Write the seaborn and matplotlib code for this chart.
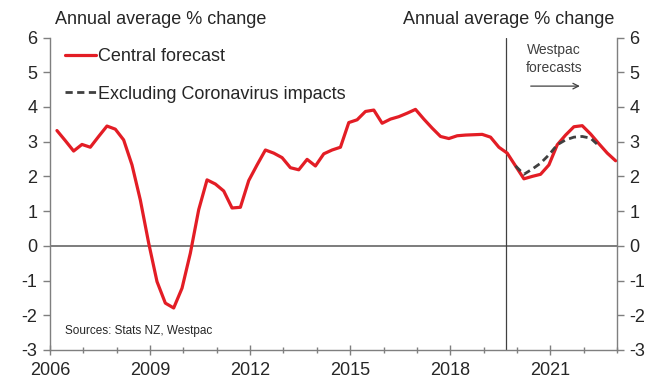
import matplotlib
matplotlib.use("Agg")
import matplotlib.pyplot as plt
from matplotlib.lines import Line2D
from matplotlib.ticker import MultipleLocator
import numpy as np
import pandas as pd
import seaborn as sns

# Quarterly GDP growth, annual average % change
first_year = 2006
central_forecast = [
    3.32, 3.03, 2.73, 2.92,   # 2006
    2.84, 3.15, 3.45, 3.36,   # 2007
    3.05, 2.33, 1.32, 0.08,   # 2008
    -1.03, -1.65, -1.79, -1.22,  # 2009
    -0.21, 1.04, 1.90, 1.78,  # 2010
    1.58, 1.09, 1.11, 1.88,   # 2011
    2.33, 2.76, 2.67, 2.54,   # 2012
    2.25, 2.19, 2.49, 2.30,   # 2013
    2.65, 2.76, 2.84, 3.55,   # 2014
    3.63, 3.87, 3.91, 3.53,   # 2015
    3.65, 3.72, 3.82, 3.93,   # 2016
    3.65, 3.39, 3.15, 3.09,   # 2017
    3.17, 3.19, 3.20, 3.21,   # 2018
    3.13, 2.84, 2.67, 2.30,   # 2019
    1.93, 2.00, 2.06, 2.33,   # 2020
    2.91, 3.19, 3.43, 3.46,   # 2021
    3.22, 2.94, 2.67, 2.45,   # 2022
]
# Scenario without the Coronavirus shock, Dec 2019 to Jun 2022
excl_start = "2019-12"
excl_covid = [2.30, 2.06, 2.21, 2.38, 2.62, 2.91, 3.05, 3.13, 3.15, 3.10, 2.88]

forecast_start = 2019.67
x_major_ticks = [2006, 2009, 2012, 2015, 2018, 2021]
y_ticks = list(range(-3, 7))


def decimal_year(dates):
    return dates.year + (dates.month - 0.5) / 12.0


central_dates = pd.date_range(f"{first_year}-03-01", periods=len(central_forecast), freq="3MS")
excl_dates = pd.date_range(f"{excl_start}-01", periods=len(excl_covid), freq="3MS")

df_central = pd.DataFrame({"year": decimal_year(central_dates), "value": central_forecast})
df_excl = pd.DataFrame({"year": decimal_year(excl_dates), "value": excl_covid})

sns.set_style("white")
plt.rcParams["font.family"] = ["Liberation Sans", "DejaVu Sans"]
plt.rcParams["axes.unicode_minus"] = False

RED = "#e31d25"
DARK = "#404040"
AXIS = "#7f7f7f"
TEXT = "#262626"

fig = plt.figure(figsize=(6.49, 3.79), dpi=100)
ax = fig.add_axes([50 / 649, 29 / 379, 567 / 649, 312.5 / 379])

ax.axhline(0, color="#595959", lw=1.1, zorder=1)
ax.axvline(forecast_start, color="#404040", lw=0.9, zorder=1)

sns.lineplot(data=df_central, x="year", y="value", ax=ax, color=RED, lw=2.3, zorder=3)
sns.lineplot(data=df_excl, x="year", y="value", ax=ax, color=DARK, lw=2.0, zorder=4)
ax.lines[-1].set_dashes((2.6, 1.6))

ax.set_xlim(2006, 2023)
ax.set_ylim(-3, 6)
ax.set_xticks(x_major_ticks)
ax.xaxis.set_minor_locator(MultipleLocator(1))
ax.set_yticks(y_ticks)
ax.set_xlabel("")
ax.set_ylabel("")

for side in ["left", "right", "bottom"]:
    ax.spines[side].set_visible(True)
    ax.spines[side].set_color(AXIS)
    ax.spines[side].set_linewidth(1.0)
ax.spines["top"].set_visible(False)

ax.tick_params(axis="y", which="major", direction="out", length=5, width=1,
               color=AXIS, labelsize=13, labelcolor=TEXT, left=True, right=True,
               labelleft=True, labelright=True, pad=4)
ax.tick_params(axis="x", which="major", direction="inout", length=7, width=1,
               color=AXIS, labelsize=13, labelcolor=TEXT, bottom=True, pad=5)
ax.tick_params(axis="x", which="minor", direction="inout", length=5, width=1,
               color=AXIS, bottom=True)

# Unit captions above each axis
fig.text(55 / 649, 1 - 20 / 379, "Annual average % change", fontsize=13,
         color=TEXT, ha="left", va="center")
fig.text(614 / 649, 1 - 20 / 379, "Annual average % change", fontsize=13,
         color=TEXT, ha="right", va="center")

# Forecast period marker
ax.text(2021.12, 5.38, "Westpac\nforecasts", fontsize=10, color="#404040",
        ha="center", va="center", linespacing=1.3)
ax.annotate("", xy=(2021.97, 4.6), xytext=(2020.33, 4.6),
            arrowprops=dict(arrowstyle="->", color="#404040", lw=0.9))

ax.text(2006.45, -2.45, "Sources: Stats NZ, Westpac", fontsize=8.5, color=TEXT,
        ha="left", va="center")

handles = [
    Line2D([], [], color=RED, lw=2.3),
    Line2D([], [], color=DARK, lw=2.0, dashes=(2.6, 1.6)),
]
leg = ax.legend(handles, ["Central forecast", "Excluding Coronavirus impacts"],
                loc="upper left", bbox_to_anchor=(65 / 649, 1 - 48 / 379),
                bbox_transform=fig.transFigure, frameon=False, fontsize=13,
                handlelength=1.7, handletextpad=0.1, labelspacing=1.15,
                borderpad=0, borderaxespad=0)
for t in leg.get_texts():
    t.set_color(TEXT)

fig.savefig("out.png", dpi=100)
